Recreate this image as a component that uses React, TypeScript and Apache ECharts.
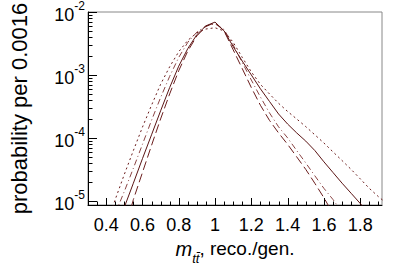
import React, { useEffect, useRef } from 'react';
import * as echarts from 'echarts';

// x: m_tt reco./gen. ratio
const X = [0.40, 0.45, 0.50, 0.55, 0.60, 0.65, 0.70, 0.75, 0.80, 0.85, 0.90, 0.95, 1.00, 1.05, 1.10, 1.15, 1.20, 1.25, 1.30, 1.35, 1.40, 1.45, 1.50, 1.55, 1.60, 1.65, 1.70, 1.75, 1.80, 1.85, 1.90, 1.95];

const SOLID = [null, 3.2e-6, 7.9e-6, 1.91e-5, 4.68e-5, 1.12e-4, 2.69e-4, 6.31e-4, 1.38e-3, 2.63e-3, 4.37e-3, 6.03e-3, 6.92e-3, 5.01e-3, 2.82e-3, 1.66e-3, 1.0e-3, 6.03e-4, 3.8e-4, 2.4e-4, 1.66e-4, 1.2e-4, 8.9e-5, 6.3e-5, 4.17e-5, 2.82e-5, 1.91e-5, 1.32e-5, 9.1e-6, 6.3e-6, null, null];
const LONGDASH = [null, null, 3.2e-6, 1.05e-5, 2.82e-5, 7.6e-5, 2.0e-4, 5.0e-4, 1.17e-3, 2.4e-3, 4.17e-3, 5.9e-3, 6.76e-3, 5.0e-3, 2.51e-3, 1.26e-3, 6.3e-4, 3.3e-4, 1.9e-4, 1.2e-4, 7.9e-5, 5.0e-5, 3.16e-5, 1.9e-5, 1.12e-5, 6.3e-6, null, null, null, null, null, null];
const DASHDOT = [null, 6.3e-6, 1.41e-5, 3.3e-5, 7.9e-5, 1.9e-4, 4.37e-4, 9.5e-4, 1.9e-3, 3.3e-3, 4.8e-3, 6.0e-3, 6.5e-3, 5.25e-3, 3.0e-3, 1.58e-3, 8.3e-4, 4.47e-4, 2.5e-4, 1.5e-4, 1.0e-4, 6.3e-5, 4.0e-5, 2.5e-5, 1.58e-5, 1.05e-5, 6.6e-6, null, null, null, null, null];
const DOTTED = [4.0e-6, 1.05e-5, 2.63e-5, 6.3e-5, 1.48e-4, 3.3e-4, 7.1e-4, 1.35e-3, 2.34e-3, 3.55e-3, 4.68e-3, 5.37e-3, 5.62e-3, 5.0e-3, 3.3e-3, 1.9e-3, 1.12e-3, 7.1e-4, 5.0e-4, 3.55e-4, 2.63e-4, 2.0e-4, 1.51e-4, 1.12e-4, 8.3e-5, 6.0e-5, 4.37e-5, 3.16e-5, 2.24e-5, 1.58e-5, 1.17e-5, 8.9e-6];

const X_MAJOR = [0.4, 0.6, 0.8, 1.0, 1.2, 1.4, 1.6, 1.8];
const X_MINOR = [0.35, 0.45, 0.5, 0.55, 0.65, 0.7, 0.75, 0.85, 0.9, 0.95, 1.05, 1.1, 1.15, 1.25, 1.3, 1.35, 1.45, 1.5, 1.55, 1.65, 1.7, 1.75, 1.85, 1.9];
const Y_MAJOR = [1e-5, 1e-4, 1e-3, 1e-2];
const Y_MINOR = [2e-5, 3e-5, 4e-5, 5e-5, 6e-5, 7e-5, 8e-5, 9e-5, 2e-4, 3e-4, 4e-4, 5e-4, 6e-4, 7e-4, 8e-4, 9e-4, 2e-3, 3e-3, 4e-3, 5e-3, 6e-3, 7e-3, 8e-3, 9e-3];

const X_MIN = 0.3;
const X_MAX = 1.92;
const Y_MIN = 8.6e-6;
const Y_MAX = 1e-2;

const FONT = 'Liberation Sans, Arial, Helvetica, sans-serif';
const COLOR = '#6b1d1d';

function pairs(ys: (number | null)[]) {
  return X.map((x, i) => [x, ys[i]]);
}

export default function App() {
  const ref = useRef<HTMLDivElement>(null);
  useEffect(() => {
    if (!ref.current) return;
    const chart = echarts.init(ref.current, null, { renderer: 'svg' });
    const tickData: number[][] = [];
    X_MAJOR.forEach((v) => tickData.push([v, Y_MAX, 0]));
    X_MINOR.forEach((v) => tickData.push([v, Y_MAX, 1]));
    Y_MAJOR.forEach((v) => tickData.push([X_MIN, v, 2]));
    Y_MINOR.forEach((v) => tickData.push([X_MIN, v, 3]));

    const mkLine = (name: string, ys: (number | null)[], type: any, color: string, width = 1) => ({
      name,
      type: 'line',
      data: pairs(ys),
      showSymbol: false,
      symbol: 'none',
      clip: true,
      lineStyle: { color, width, type },
      silent: true,
    });

    chart.setOption({
      animation: false,
      grid: {
        left: 76,
        top: 5,
        right: 17,
        bottom: 49,
        show: true,
        borderColor: '#888',
        borderWidth: 1,
        backgroundColor: 'transparent',
      },
      xAxis: {
        type: 'value',
        min: X_MIN,
        max: X_MAX,
        interval: 0.1,
        axisLine: { show: true, lineStyle: { color: '#000', width: 1 } },
        axisTick: { show: false },
        splitLine: { show: false },
        axisLabel: {
          margin: 11,
          fontSize: 18,
          fontFamily: FONT,
          color: '#000',
          showMinLabel: false,
          showMaxLabel: false,
          formatter: (v: number) => {
            const k = Math.round(v * 10);
            if (k % 2 !== 0) return '';
            return String(Math.round(v * 10) / 10);
          },
        },
        name: '{m|m}{s|tt\u0304}{n|, reco./gen.}',
        nameLocation: 'middle',
        nameGap: 34,
        nameTextStyle: {
          color: '#000',
          fontFamily: FONT,
          rich: {
            m: { fontSize: 20, fontStyle: 'italic', fontFamily: FONT, lineHeight: 26, verticalAlign: 'top', color: '#000' },
            s: { fontSize: 13, fontStyle: 'italic', fontFamily: FONT, lineHeight: 26, verticalAlign: 'bottom', color: '#000' },
            n: { fontSize: 19, fontFamily: FONT, lineHeight: 26, verticalAlign: 'top', color: '#000' },
          },
        },
      },
      yAxis: {
        type: 'log',
        logBase: 10,
        min: Y_MIN,
        max: Y_MAX,
        axisLine: { show: true, lineStyle: { color: '#000', width: 1 } },
        axisTick: { show: false },
        splitLine: { show: false },
        minorTick: { show: false },
        axisLabel: {
          margin: 3,
          showMinLabel: false,
          formatter: (v: number) => {
            const e = Math.round(Math.log10(v));
            return '{b|10}{s|' + e + '}';
          },
          rich: {
            b: { fontSize: 18, fontFamily: FONT, color: '#000', lineHeight: 24, verticalAlign: 'bottom' },
            s: { fontSize: 12, fontFamily: FONT, color: '#000', lineHeight: 24, verticalAlign: 'top' },
          },
        },
        name: 'probability per 0.0016',
        nameLocation: 'middle',
        nameGap: 58,
        nameTextStyle: { fontSize: 22, fontFamily: FONT, color: '#000' },
      },
      series: [
        mkLine('dotted', DOTTED, [2, 3], COLOR),
        mkLine('dashdot', DASHDOT, [6, 3, 1, 3], '#8a4444'),
        mkLine('longdash', LONGDASH, [9, 4], COLOR),
        mkLine('solid', SOLID, 'solid', '#5a1414'),
        {
          type: 'custom',
          silent: true,
          clip: false,
          data: tickData,
          encode: { x: 0, y: 1 },
          renderItem: (params: any, api: any) => {
            const kind = api.value(2);
            const pt = api.coord([api.value(0), api.value(1)]);
            const cs = params.coordSys;
            if (kind < 2) {
              const len = kind === 0 ? 7 : 3.5;
              const yb = cs.y + cs.height;
              const xx = Math.round(pt[0]) + 0.5;
              return { type: 'line', shape: { x1: xx, y1: yb, x2: xx, y2: yb - len }, style: { stroke: '#000', lineWidth: 1 } };
            }
            const len = kind === 2 ? 9 : 4.5;
            const yy = Math.round(pt[1]) + 0.5;
            return { type: 'line', shape: { x1: cs.x, y1: yy, x2: cs.x + len, y2: yy }, style: { stroke: '#000', lineWidth: 1 } };
          },
        },
      ],
    });
    return () => chart.dispose();
  }, []);
  return <div ref={ref} style={{ position: 'fixed', left: 0, top: 0, width: 399, height: 270, background: '#fff' }} />;
}
